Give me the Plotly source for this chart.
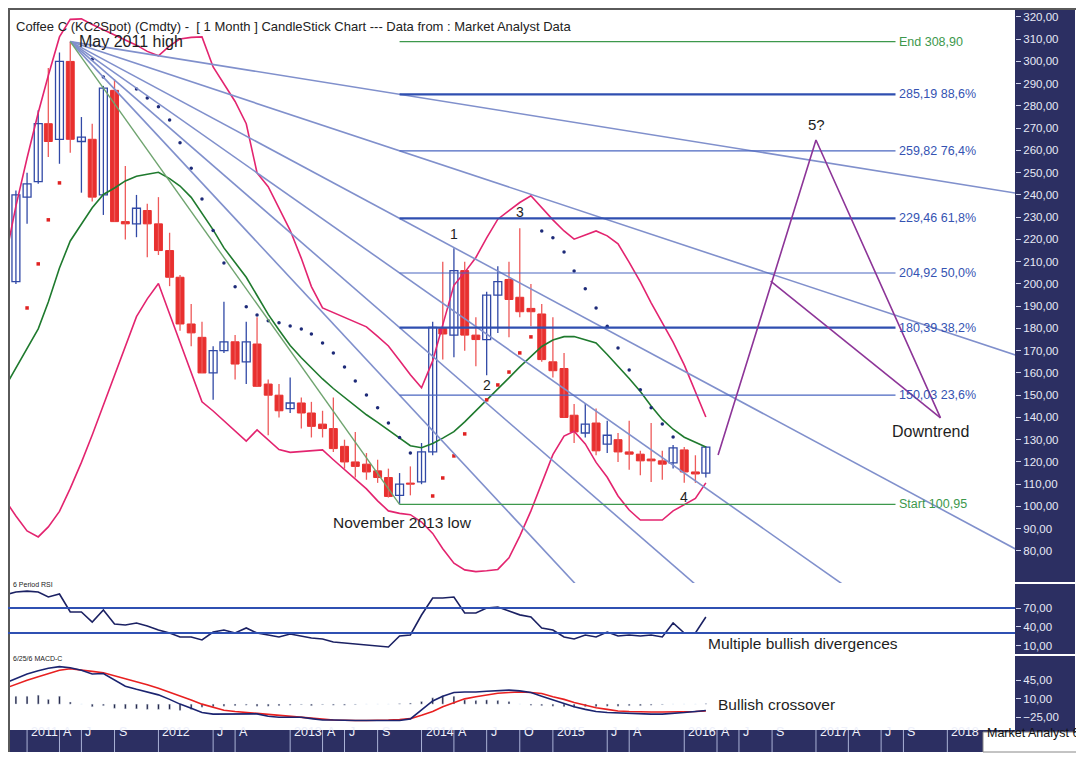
import pandas as pd
import plotly.graph_objects as go

W, H = 1084, 760
OX, OY = 8, 8          # page body margin the browser adds around the plot
FW, FH = W - OX, H - OY

# monthly bars Nov 2010 .. Mar 2016
months = pd.date_range("2010-11-01", "2016-03-01", freq="MS")

opens = [204, 201,
         239, 246, 272, 265, 300, 264, 265, 240, 287, 228, 227, 233,
         227, 215, 203, 182, 176, 160, 170, 174, 165, 173, 155, 150,
         144, 146.5, 142, 137, 135, 127, 120, 119, 116, 113, 105, 110.5,
         111, 124.5, 180, 177, 206, 177, 175, 195, 202, 194, 189, 186.5,
         165, 162, 141, 133, 137.5, 128, 130, 124.5, 123.5, 121.3, 120.5, 119.6,
         125.4, 115.5, 115]
highs = [206, 242,
         250, 278, 297, 304, 308.9, 275, 272, 289, 292, 253, 240, 236,
         239, 223, 204, 191, 183, 172, 192, 177, 183, 185, 157, 155,
         158, 149, 147, 143, 149, 130, 133.5, 124, 121, 117, 115, 118,
         128.5, 183, 210, 216, 210, 185, 196.5, 208, 210, 225, 200, 191,
         185, 169, 146, 146.5, 144, 138.5, 133, 138.5, 125, 137.5, 125, 127.6,
         126.7, 123, 127.2]
lows = [200, 200,
        227, 245, 257, 254, 259, 241, 237, 231, 228, 220, 221, 212,
        213, 199, 179, 172, 160, 148, 169, 157, 155, 154, 132, 140,
        142, 135, 131, 131, 124.5, 117, 113, 112, 110.6, 104, 100.95, 105,
        110, 123, 166, 167, 170, 163, 159, 178, 176, 185, 181, 165,
        158, 140, 128.5, 131, 123, 124, 120, 116.5, 114, 111, 112, 117,
        110.6, 110.6, 113]
closes = [202, 240,
          245, 272, 264, 300, 265, 266, 239, 288, 228, 227, 234, 227,
          215, 203, 182, 178, 160, 170, 174, 164, 174, 154, 150, 143,
          146.5, 142, 136, 135, 126, 120, 118, 115.5, 113, 104.5, 110, 110,
          124.5, 180.5, 177.5, 206, 177, 175, 195, 201, 193, 187.5, 187.5, 166,
          161, 140, 133.5, 137, 125, 132, 124.5, 123.5, 120.5, 120.5, 119, 126.3,
          115.5, 114.6, 126.7]

# bollinger bands and middle average
bb_upper = [211, 235,
            256.6, 276.9, 293.7, 311, 318.9, 319.1, 316.6, 314.2, 312, 309.8, 307.3, 304.5,
            302.5, 307, 310.1, 310.8, 311, 297.5, 290, 282, 272, 249.9, 243.7, 234.4,
            224.1, 211.5, 198.8, 189.2, 187.1, 185, 182.9, 180.7, 176.4, 172.1, 165.6, 159.2,
            153.3, 165.4, 181.6, 199.4, 205.2, 211.9, 220.7, 229.1, 232.9, 236.6, 239.6, 234.2,
            228.8, 223.8, 220.1, 222, 223.8, 221.6, 218, 209.7, 200.9, 191.5, 182.5, 173.8,
            163.6, 151.5, 140.2]
bb_lower = [102.9, 95.7,
            89, 86.3, 90.8, 97.8, 108.1, 119.8, 132.1, 145.6, 159.1, 172.7, 185.3, 193.3,
            200.2, 186.5, 173.6, 160.3, 147, 142.9, 138.4, 133.9, 129.4, 134.4, 130, 125.6,
            124.3, 124.7, 125.1, 125.4, 121, 116.6, 112.2, 107.9, 102.5, 98, 96.9, 96.3,
            93, 87.9, 81, 74.5, 71.5, 70.7, 71.1, 71.7, 76.9, 86.7, 98, 110.6,
            123.3, 131.6, 133.8, 128.1, 119.8, 113.1, 104.7, 98.4, 93.9, 93.9, 93.9, 98,
            100.7, 103.6, 110.6]
bb_mid = [153.7, 162.2,
          171.2, 179.8, 191.9, 207.2, 219.3, 227, 234.2, 240.2, 243.1, 246.3, 248.4, 249.3,
          250.2, 247.3, 244, 238.9, 231.5, 224.3, 216.2, 209.4, 203, 194.8, 186.3, 179.3,
          172.3, 166.8, 162.1, 157.3, 153, 148.9, 144.9, 141.2, 137.8, 134.3, 130.8, 127.3,
          126.4, 128.3, 130.7, 133.6, 138, 142.9, 147.9, 152.8, 157.8, 162.7, 167.5, 171.9,
          174.8, 176.3, 176.4, 175, 173.5, 168.3, 163.1, 157.5, 151.7, 145.1, 139.1, 134.7,
          131.1, 128.8, 126.7]

# parabolic SAR dots (None = no dot of that colour)
N = None
sar_below = [N, N,
             189.2, 209, 228.8, 245.4, N, N, N, N, N, N, N, N,
             N, N, N, N, N, N, N, N, N, N, N, N,
             N, N, N, N, N, N, N, N, N, N, N, N,
             N, 104.7, 112.8, 122.7, 132.6, N, 147.9, 154.6, 160.4, 169, 176.2, N,
             N, N, N, N, N, N, N, N, N, N, N, N,
             N, N, N]
sar_above = [N, N,
             N, N, N, N, N, N, 301, 293, N, N, 287.6, 283.6,
             279.6, 273.7, 263.4, 252, 238.2, 224, 209.4, 198.7, 189.7, 186, 183.4, 182.5,
             181.1, 179.8, 177.5, 173.5, 169, 162.7, 156.4, 150.1, 144.3, 137.5, 131, 124,
             N, N, N, N, N, N, N, N, N, N, N, 223.8,
             220.7, 214.4, 205.8, 197.8, 189.2, 181, 171.2, 161.3, 152.4, 144.3, 137, 131.2,
             N, N, N]

rsi = [90.8, 95.6,
       97, 95.6, 87.6, 92.4, 63.6, 63.6, 47.6, 66.8, 44.4, 42.8, 46, 41.2,
       34.8, 30, 23.6, 23.6, 18.8, 31.6, 34.8, 30, 38, 30, 26.8, 23.6,
       28.4, 25.2, 22, 20.4, 15.6, 14, 12.4, 10.8, 9.2, 7.6, 25.2, 26.8,
       58.8, 86, 86, 87.6, 62, 62, 70, 71.6, 65.2, 59, 55.6, 38,
       34.8, 23.6, 20.4, 26.8, 23.6, 31.6, 25.2, 26.8, 25.2, 26.8, 23.6, 46,
       30, 30, 55.6]

macd = [40, 49,
        57, 63, 68, 71, 69, 64, 57, 58, 46, 34, 28, 23,
        17.5, 9, 0, -8, -16, -19, -19, -19, -18, -18.5, -23, -25,
        -25, -25, -27.5, -30, -30, -31, -31, -31, -31, -31, -31, -28,
        -11, 6, 15, 22, 23, 23, 24.5, 26, 26.5, 25, 22, 15,
        8, 1, -5, -10, -14, -16, -17, -18, -19, -19, -19, -18,
        -16, -14, -12]
macd_signal = [30, 38,
               45, 52, 58, 64, 67, 65, 62, 59.5, 54, 47.5, 42, 36.5,
               30, 23, 15, 8, 0, -6, -11.5, -14, -16, -18, -19.5, -21,
               -23, -25, -27, -28.5, -30, -31, -31, -31, -31, -30, -29, -27.5,
               -21, -14, -5, 3, 10, 14, 17.5, 20.5, 22, 23, 22, 20,
               14, 9, 3, -2, -7, -10, -13, -14, -15, -15, -15, -15,
               -14.5, -14, -13]
macd_hist = [10, 15,
             15, 17, 9, 15, 4, 0, -5, -3, -8, -9, -9, -10,
             -10, -10, -12, -10, -6, -5, -4, -3, -2, -4, -4, -3,
             -2, -1, -3, -1, -2, -2, -1, 0, 0, 0, 1, 2,
             5, 12, 16, 15, 8, 7, 8, 7, 5, 0, -2, -3,
             -4, -5, -6, -5, -5, -4, -4, -3, -3, -2, -1, 0,
             0, 0, 1]

# Fibonacci retracement of the May 2011 high -> Nov 2013 low swing
high_date, high_price = "2011-05-01", 308.90
low_date, low_price = "2013-11-01", 100.95
fib_ratios = [0.236, 0.382, 0.500, 0.618, 0.764, 0.886]
fib_levels = [150.03, 180.39, 204.92, 229.46, 259.82, 285.19]
fib_end_date = "2017-08-10"

# projected path
proj_dates = ["2016-04-04", "2017-01-01", "2017-12-13"]
proj_vals = [123.1, 264.7, 139.8]
alt_dates = ["2016-08-28", "2017-12-13"]
alt_vals = [201.3, 139.8]

price_ticks = list(range(80, 330, 10))

xlabel_dates = ["2011-01-01", "2011-04-01", "2011-06-01", "2011-09-01",
                "2012-01-01", "2012-06-01", "2012-08-01",
                "2013-01-01", "2013-04-01", "2013-06-01", "2013-09-01",
                "2014-01-01", "2014-04-01", "2014-07-01", "2014-10-01",
                "2015-01-01", "2015-06-01", "2015-08-01",
                "2016-01-01", "2016-04-01", "2016-06-01", "2016-09-01",
                "2017-01-01", "2017-04-01", "2017-07-01", "2017-09-01",
                "2018-01-01"]
xlabel_text = ["2011", "A", "J", "S", "2012", "J", "A", "2013", "A", "J", "S",
               "2014", "A", "J", "O", "2015", "J", "A", "2016", "A", "J", "S",
               "2017", "A", "J", "S", "2018"]

BLUE = "#3149a6"
RED = "#e8302f"
PINK = "#e3246f"
FAN = "#8090cc"
NAVY = "#2c2f62"
FIBC = "#3553b2"
GREEN = "#3d984c"
FONT = "Liberation Sans, Arial, sans-serif"


def px_x(p):
    return (p - OX) / FW


def px_y(p):
    return 1 - (p - OY) / FH


fig = go.Figure()

# candles: wicks first, bodies on top
up = [i for i in range(len(months)) if closes[i] >= opens[i]]
dn = [i for i in range(len(months)) if closes[i] < opens[i]]


def wicks(idx):
    xs, ys = [], []
    for i in idx:
        xs += [months[i], months[i], None]
        ys += [lows[i], highs[i], None]
    return xs, ys


for idx, col in ((up, BLUE), (dn, "#ee5a5a")):
    wx, wy = wicks(idx)
    fig.add_trace(go.Scatter(x=wx, y=wy, mode="lines", line=dict(color=col, width=1.3),
                             hoverinfo="skip"))

body_w = 22 * 86400000
fig.add_trace(go.Bar(x=[months[i] for i in up],
                     y=[max(closes[i] - opens[i], 0.5) for i in up],
                     base=[opens[i] for i in up], width=body_w,
                     marker=dict(color="white", line=dict(color=BLUE, width=1.3))))
fig.add_trace(go.Bar(x=[months[i] for i in dn],
                     y=[max(opens[i] - closes[i], 0.5) for i in dn],
                     base=[closes[i] for i in dn], width=body_w,
                     marker=dict(color=RED, line=dict(color=RED, width=1))))

# bands and average
fig.add_trace(go.Scatter(x=months, y=bb_upper, mode="lines", line=dict(color=PINK, width=1.6)))
fig.add_trace(go.Scatter(x=months, y=bb_lower, mode="lines", line=dict(color=PINK, width=1.6)))
fig.add_trace(go.Scatter(x=months, y=bb_mid, mode="lines", line=dict(color="#1f7a2e", width=1.6)))

# SAR dots
fig.add_trace(go.Scatter(x=months, y=sar_above, mode="markers",
                         marker=dict(color="#1d2a78", size=3.5)))
fig.add_trace(go.Scatter(x=months, y=sar_below, mode="markers",
                         marker=dict(color="#e02222", size=3.5, symbol="square")))

# fan lines from the high through each retracement level at the low date
t_hi, t_lo = pd.Timestamp(high_date), pd.Timestamp(low_date)
t_far = pd.Timestamp("2018-09-01")
frac = (t_far - t_hi) / (t_lo - t_hi)
for lvl in fib_levels:
    fig.add_trace(go.Scatter(x=[t_hi, t_far], y=[high_price, high_price + (lvl - high_price) * frac],
                             mode="lines", line=dict(color=FAN, width=1.6)))
fig.add_trace(go.Scatter(x=[high_date, low_date], y=[high_price, low_price], mode="lines",
                         line=dict(color="#6fa46f", width=1.4)))

# retracement lines
for r, lvl in zip(fib_ratios, fib_levels):
    thick = r in (0.382, 0.618, 0.886)
    fig.add_trace(go.Scatter(x=[low_date, fib_end_date], y=[lvl, lvl], mode="lines",
                             line=dict(color="#2f4fb0" if thick else "#4a66c0",
                                       width=2.2 if thick else 1.2)))
    fig.add_annotation(x=fib_end_date, y=lvl, xanchor="left", showarrow=False, xshift=1,
                       text=f"{lvl:.2f} {r * 100:.1f}%".replace(".", ","),
                       font=dict(size=12.5, color=FIBC, family=FONT))
for lvl, name in ((high_price, "End"), (low_price, "Start")):
    fig.add_trace(go.Scatter(x=[low_date, fib_end_date], y=[lvl, lvl], mode="lines",
                             line=dict(color=GREEN, width=1.2)))
    fig.add_annotation(x=fib_end_date, y=lvl, xanchor="left", showarrow=False, xshift=1,
                       text=f"{name} {lvl:.2f}".replace(".", ","),
                       font=dict(size=12.5, color=GREEN, family=FONT))

# projection
fig.add_trace(go.Scatter(x=proj_dates, y=proj_vals, mode="lines", line=dict(color="#8d3598", width=1.6)))
fig.add_trace(go.Scatter(x=alt_dates, y=alt_vals, mode="lines", line=dict(color="#8d3598", width=1.6)))

# RSI panel
fig.add_trace(go.Scatter(x=months, y=rsi, mode="lines", line=dict(color="#1b2163", width=1.6),
                         xaxis="x", yaxis="y2"))

# MACD panel
fig.add_trace(go.Bar(x=months, y=macd_hist, width=5 * 86400000, marker=dict(color="#14163a"),
                     xaxis="x", yaxis="y3"))
fig.add_trace(go.Scatter(x=months, y=macd_signal, mode="lines", line=dict(color="#e82020", width=1.6),
                         xaxis="x", yaxis="y3"))
fig.add_trace(go.Scatter(x=months, y=macd, mode="lines", line=dict(color="#1b2470", width=1.6),
                         xaxis="x", yaxis="y3"))

ytick = dict(side="right", anchor="x", showgrid=False, zeroline=False, showline=False,
             ticks="outside", ticklen=5, tickcolor="#d0d4ea",
             tickfont=dict(size=11.5, color="#e6e9f6", family=FONT), tickformat=".2f")

fig.update_layout(
    width=FW, height=FH, margin=dict(l=0, r=0, t=0, b=0),
    paper_bgcolor="white", plot_bgcolor="white",
    showlegend=False, barmode="overlay", separators=", ",
    font=dict(family=FONT, color="#1e1e1e"),
    xaxis=dict(domain=[px_x(8), px_x(1015)], range=["2010-11-09", "2018-07-08"],
               type="date", showticklabels=False, showgrid=False, zeroline=False,
               showline=False, ticks="", anchor="y3"),
    yaxis=dict(domain=[px_y(583), px_y(8)], range=[65.6, 324], tickvals=price_ticks, **ytick),
    yaxis2=dict(domain=[px_y(655), px_y(583)], range=[-5.2, 110], tickvals=[10, 40, 70], **ytick),
    yaxis3=dict(domain=[px_y(730), px_y(655)], range=[-49, 93], tickvals=[-25, 10, 45], **ytick),
)

shapes = [
    # right axis panel and separators
    dict(type="rect", xref="paper", yref="paper", x0=px_x(1015), x1=px_x(1075),
         y0=px_y(730), y1=px_y(8), fillcolor=NAVY, line=dict(width=0), layer="below"),
    dict(type="line", xref="paper", yref="paper", x0=px_x(1015), x1=px_x(1075),
         y0=px_y(583), y1=px_y(583), line=dict(color="white", width=2)),
    dict(type="line", xref="paper", yref="paper", x0=px_x(1015), x1=px_x(1075),
         y0=px_y(655), y1=px_y(655), line=dict(color="white", width=2)),
    # bottom date band
    dict(type="rect", xref="paper", yref="paper", x0=px_x(8), x1=px_x(1075),
         y0=px_y(752), y1=px_y(730), fillcolor=NAVY, line=dict(width=0), layer="below"),
    dict(type="rect", xref="paper", yref="paper", x0=px_x(983), x1=px_x(1084),
         y0=px_y(752), y1=px_y(732), fillcolor="white", line=dict(color="#888", width=1)),
    # frame
    dict(type="line", xref="paper", yref="paper", x0=0, x1=px_x(1077),
         y0=px_y(9), y1=px_y(9), line=dict(color="#5a5a5a", width=2)),
    dict(type="line", xref="paper", yref="paper", x0=px_x(9), x1=px_x(9),
         y0=px_y(752), y1=px_y(9), line=dict(color="#5a5a5a", width=2)),
    # RSI bands
    dict(type="line", xref="paper", yref="y2", x0=px_x(8), x1=px_x(1015), y0=70, y1=70,
         line=dict(color="#2f50b2", width=2)),
    dict(type="line", xref="paper", yref="y2", x0=px_x(8), x1=px_x(1015), y0=30, y1=30,
         line=dict(color="#2f50b2", width=2)),
]
for d in xlabel_dates:
    shapes.append(dict(type="line", xref="x", yref="paper", x0=d, x1=d,
                       y0=px_y(752), y1=px_y(730), line=dict(color="#aab2d6", width=1)))
fig.update_layout(shapes=shapes)

for d, t in zip(xlabel_dates, xlabel_text):
    fig.add_annotation(x=d, xref="x", y=px_y(741), yref="paper", text=t, showarrow=False,
                       xanchor="left", xshift=2, font=dict(size=12.5, color="#eef0fa", family=FONT))

fig.add_annotation(x=px_x(985), y=px_y(742), xref="paper", yref="paper", xanchor="left",
                   text="Market Analyst 6", showarrow=False,
                   font=dict(size=12.5, color="#111", family=FONT))

fig.add_annotation(x=px_x(14), y=px_y(17), xref="paper", yref="paper", xanchor="left",
                   text="Coffee C (KC2Spot) (Cmdty) -  [ 1 Month ] CandleStick Chart --- Data from : Market Analyst Data",
                   showarrow=False, font=dict(size=13, color="#222", family=FONT))

notes = [
    ("2011-05-21", 309, "May 2011 high", "left", 16),
    ("2013-11-08", 92.6, "November 2013 low", "center", 15.5),
    ("2014-04-01", 222.5, "1", "center", 14),
    ("2014-07-01", 154.6, "2", "center", 14),
    ("2014-10-01", 232.4, "3", "center", 14),
    ("2016-01-01", 104.3, "4", "center", 14),
    ("2017-01-03", 271.5, "5?", "center", 15),
    ("2017-11-16", 133.5, "Downtrend", "center", 16),
]
for x, y, t, anc, sz in notes:
    fig.add_annotation(x=x, y=y, text=t, showarrow=False, xanchor=anc,
                       font=dict(size=sz, color="#1e1e1e", family=FONT))

fig.add_annotation(x="2016-03-01", y=14, xref="x", yref="y2", xanchor="left",
                   text="Multiple bullish divergences", showarrow=False,
                   font=dict(size=15.5, color="#1e1e1e", family=FONT))
fig.add_annotation(x="2016-03-28", y=-1, xref="x", yref="y3", xanchor="left",
                   text="Bullish crossover", showarrow=False,
                   font=dict(size=15.5, color="#1e1e1e", family=FONT))
fig.add_annotation(x=px_x(11), y=px_y(590), xref="paper", yref="paper", xanchor="left",
                   text="6 Period RSI", showarrow=False, font=dict(size=7, color="#222", family=FONT))
fig.add_annotation(x=px_x(11), y=px_y(664), xref="paper", yref="paper", xanchor="left",
                   text="6/25/6 MACD-C", showarrow=False, font=dict(size=7, color="#222", family=FONT))

fig.write_html("out.html")
